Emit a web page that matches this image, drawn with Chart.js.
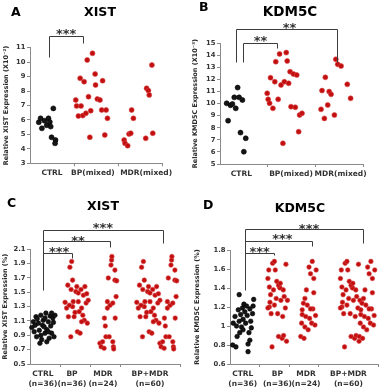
<!DOCTYPE html>
<html><head><meta charset="utf-8">
<script src="https://cdn.jsdelivr.net/npm/chart.js@4/dist/chart.umd.min.js"></script>
<style>
html,body{margin:0;padding:0;background:#fff;}
body{width:380px;height:387px;position:relative;overflow:hidden;font-family:"DejaVu Sans",sans-serif;}
.panel{position:absolute;}
.panel canvas{display:block;}
.lbl{position:absolute;font-weight:bold;color:#000;line-height:1;white-space:nowrap;}
.ctr{transform:translateX(-50%);}
</style></head><body>
<div class="panel" style="left:0;top:0;width:190px;height:190px"><canvas id="cA" width="190" height="190"></canvas></div>
<div class="panel" style="left:190px;top:0;width:190px;height:190px"><canvas id="cB" width="190" height="190"></canvas></div>
<div class="panel" style="left:0;top:190px;width:190px;height:197px"><canvas id="cC" width="190" height="197"></canvas></div>
<div class="panel" style="left:190px;top:190px;width:190px;height:197px"><canvas id="cD" width="190" height="197"></canvas></div>
<div class="lbl" style="left:11px;top:5.5px;font-size:12.5px">A</div>
<div class="lbl ctr" style="left:100px;top:5.5px;font-size:12.5px">XIST</div>
<div class="lbl" style="left:199px;top:0.5px;font-size:12.5px">B</div>
<div class="lbl ctr" style="left:290px;top:5px;font-size:13.5px">KDM5C</div>
<div class="lbl" style="left:7px;top:196.5px;font-size:12.5px">C</div>
<div class="lbl ctr" style="left:103px;top:199.5px;font-size:12.5px">XIST</div>
<div class="lbl" style="left:203px;top:198.5px;font-size:12.5px">D</div>
<div class="lbl ctr" style="left:300px;top:201.5px;font-size:12.5px">KDM5C</div>
<script>
// ---------- DATA (x = jitter position in category units, y = value) ----------
const A_CATS = ['CTRL', 'BP(mixed)', 'MDR(mixed)'];
const A_YTICKS = [3, 4, 5, 6, 7, 8, 9, 10, 11];
const A_CTRL = [[0.20,5.84],[0.24,6.11],[0.27,5.42],[0.33,5.95],[0.38,5.63],[0.42,6.11],[0.45,5.86],[0.47,5.54],[0.53,6.80],[0.49,4.80],[0.58,4.61],[0.57,4.38]];
const A_BP = [[1.04,7.38],[1.06,6.97],[1.14,8.88],[1.16,6.97],[1.10,6.27],[1.20,6.30],[1.23,8.65],[1.27,6.46],[1.30,10.15],[1.33,7.61],[1.38,6.64],[1.36,4.80],[1.42,10.61],[1.48,9.18],[1.49,8.42],[1.53,7.45],[1.59,7.38],[1.63,6.69],[1.65,8.72],[1.70,4.96],[1.73,6.69],[1.76,6.11]];
const A_MDR = [[2.14,4.61],[2.16,4.38],[2.22,4.22],[2.25,5.03],[2.29,5.08],[2.31,6.69],[2.35,6.11],[2.63,4.73],[2.65,8.19],[2.69,8.03],[2.71,7.73],[2.77,9.80],[2.79,5.08]];

const B_CATS = ['CTRL', 'BP(mixed)', 'MDR(mixed)'];
const B_YTICKS = [5, 6, 7, 8, 9, 10, 11, 12, 13, 14, 15];
const B_CTRL = [[0.14,10.03],[0.17,8.59],[0.22,9.86],[0.26,9.97],[0.30,10.52],[0.33,9.61],[0.37,11.33],[0.40,10.52],[0.47,10.30],[0.43,7.60],[0.54,7.13],[0.50,6.02]];
const B_BP = [[0.99,10.86],[1.01,10.36],[1.04,10.03],[1.06,12.15],[1.11,9.61],[1.15,11.82],[1.17,13.48],[1.22,10.36],[1.25,14.12],[1.28,11.55],[1.32,6.71],[1.35,11.82],[1.39,14.23],[1.41,13.54],[1.44,11.69],[1.47,12.65],[1.49,9.75],[1.54,12.46],[1.58,9.70],[1.61,12.38],[1.65,7.68],[1.67,9.06],[1.72,9.20]];
const B_MDR = [[2.12,9.53],[2.14,11.08],[2.19,8.78],[2.21,12.18],[2.26,9.89],[2.29,11.00],[2.33,10.77],[2.40,9.06],[2.43,13.67],[2.47,13.26],[2.54,13.12],[2.67,11.60],[2.74,10.44]];

const C_CATS = [['CTRL','(n=36)'], ['BP','(n=36)'], ['MDR','(n=24)'], ['BP+MDR','(n=60)']];
const C_YTICKS = [0.5, 0.7, 0.9, 1.1, 1.3, 1.5, 1.7, 1.9, 2.1];
const C_CTRL = [[0.06,1.01],[0.11,1.09],[0.14,0.95],[0.20,1.16],[0.22,0.88],[0.28,1.07],[0.31,0.97],[0.36,1.18],[0.39,0.84],[0.42,1.04],[0.44,1.11],[0.50,0.93],[0.53,1.21],[0.56,0.98],[0.61,1.09],[0.64,0.86],[0.67,1.17],[0.69,1.03],[0.72,0.93],[0.76,1.14],[0.78,1.08],[0.80,0.88],[0.83,1.18],[0.33,0.79],[0.56,0.81],[0.17,1.04],[0.47,1.02],[0.72,1.21],[0.24,1.13],[0.61,0.95],[0.36,0.90],[0.50,1.14]];
const C_BP = [[1.17,1.36],[1.22,1.28],[1.26,1.60],[1.28,1.16],[1.33,1.85],[1.36,0.88],[1.37,1.54],[1.39,1.93],[1.42,1.30],[1.44,1.37],[1.47,1.16],[1.50,1.22],[1.42,1.67],[1.53,1.51],[1.56,1.58],[1.58,0.95],[1.61,1.37],[1.64,1.23],[1.67,0.93],[1.70,1.54],[1.72,1.28],[1.76,1.18],[1.78,1.46],[1.81,1.11],[1.83,1.58],[1.87,1.35],[1.89,1.48],[1.91,1.07],[1.94,1.39],[1.61,1.49],[1.31,1.32],[1.72,1.09]];
const C_MDR = [[2.33,0.79],[2.37,0.74],[2.42,0.81],[2.47,0.72],[2.48,1.14],[2.51,1.03],[2.53,0.88],[2.58,1.28],[2.58,1.37],[2.61,1.70],[2.64,0.88],[2.67,1.32],[2.70,1.88],[2.72,1.95],[2.73,2.00],[2.76,0.81],[2.78,0.74],[2.83,1.81],[2.83,1.67],[2.87,1.44],[2.84,1.14],[2.79,0.71],[2.89,1.66],[2.76,1.35]];
const C_BPMDR = [[3.56,1.36],[3.61,1.28],[3.65,1.60],[3.67,1.16],[3.72,1.85],[3.75,0.88],[3.76,1.54],[3.78,1.93],[3.81,1.30],[3.83,1.37],[3.86,1.16],[3.89,1.22],[3.81,1.67],[3.92,1.51],[3.95,1.58],[3.97,0.95],[4.00,1.37],[4.03,1.23],[4.06,0.93],[4.09,1.54],[4.11,1.28],[4.15,1.18],[4.17,1.46],[4.20,1.11],[4.22,1.58],[4.26,1.35],[4.28,1.48],[4.30,1.07],[4.33,1.39],[4.00,1.49],[3.70,1.32],[4.11,1.09],
  [4.33,0.79],[4.37,0.74],[4.42,0.81],[4.47,0.72],[4.48,1.14],[4.51,1.03],[4.53,0.88],[4.58,1.28],[4.58,1.37],[4.61,1.70],[4.64,0.88],[4.67,1.32],[4.70,1.88],[4.72,1.95],[4.73,2.00],[4.76,0.81],[4.78,0.74],[4.83,1.81],[4.83,1.67],[4.87,1.44],[4.84,1.14],[4.79,0.71],[4.89,1.66],[4.76,1.35]];

const D_CATS = [['CTRL','(n=36)'], ['BP','(n=36)'], ['MDR','(n=24)'], ['BP+MDR','(n=60)']];
const D_YTICKS = [0.6, 0.8, 1, 1.2, 1.4, 1.6, 1.8];
const D_CTRL = [[0.09,0.80],[0.20,0.78],[0.11,1.03],[0.17,1.10],[0.22,1.00],[0.24,0.89],[0.28,1.17],[0.31,1.05],[0.33,0.93],[0.36,1.12],[0.39,0.99],[0.42,1.19],[0.44,1.07],[0.47,1.23],[0.50,1.15],[0.53,1.03],[0.56,1.21],[0.58,1.11],[0.61,0.81],[0.61,0.73],[0.64,0.93],[0.67,1.18],[0.70,1.05],[0.72,0.98],[0.76,1.13],[0.78,1.21],[0.31,1.33],[0.80,1.28],[0.67,0.85],[0.44,0.96]];
const D_BP = [[1.28,1.50],[1.31,1.59],[1.33,1.41],[1.33,1.20],[1.37,1.33],[1.39,1.13],[1.42,0.78],[1.44,1.66],[1.47,1.38],[1.50,1.68],[1.53,1.59],[1.56,1.29],[1.58,1.47],[1.61,1.13],[1.64,0.89],[1.67,1.41],[1.69,1.40],[1.72,1.27],[1.76,0.87],[1.78,1.10],[1.80,1.38],[1.83,1.31],[1.87,1.19],[1.89,1.65],[1.91,0.84],[1.94,1.27],[1.81,0.90],[1.50,1.22],[1.28,1.19],[1.64,1.43],[1.70,1.45],[1.35,1.25]];
const D_MDR = [[2.39,0.89],[2.42,1.03],[2.44,1.12],[2.48,1.24],[2.50,0.87],[2.53,0.99],[2.56,1.10],[2.58,1.38],[2.61,1.22],[2.64,0.96],[2.67,1.62],[2.69,1.08],[2.72,1.55],[2.76,1.03],[2.78,1.68],[2.80,1.18],[2.83,1.50],[2.87,1.01],[2.89,1.11],[2.91,1.59],[2.83,1.35],[2.72,1.18],[2.44,1.17],[2.53,1.29]];
const D_BPMDR = [[3.73,1.50],[3.76,1.59],[3.78,1.41],[3.78,1.20],[3.82,1.33],[3.84,1.13],[3.87,0.78],[3.89,1.66],[3.92,1.38],[3.95,1.68],[3.98,1.59],[4.01,1.29],[4.03,1.47],[4.06,1.13],[4.09,0.89],[4.12,1.41],[4.14,1.40],[4.17,1.27],[4.21,0.87],[4.23,1.10],[4.25,1.38],[4.28,1.31],[4.32,1.19],[4.34,1.65],[4.36,0.84],[4.39,1.27],[4.26,0.90],[3.95,1.22],[3.73,1.19],[4.09,1.43],[4.15,1.45],[3.80,1.25],
  [4.37,0.89],[4.40,1.03],[4.42,1.12],[4.46,1.24],[4.48,0.87],[4.51,0.99],[4.54,1.10],[4.56,1.38],[4.59,1.22],[4.62,0.96],[4.65,1.62],[4.67,1.08],[4.70,1.55],[4.74,1.03],[4.76,1.68],[4.78,1.18],[4.81,1.50],[4.85,1.01],[4.87,1.11],[4.89,1.59],[4.81,1.35],[4.70,1.18],[4.42,1.17],[4.51,1.29]];

// ---------- STYLE ----------
const AXIS = '#8a8a8a';
const TICK = '#333333';
const FONT = '"DejaVu Sans", sans-serif';
const BLACK = {fill: '#151515', border: '#000000'};
const RED = {fill: '#c20e0e', border: '#d84848'};

const bracketPlugin = {
  id: 'brackets',
  afterDraw(chart, args, opts) {
    const {ctx} = chart;
    const x = chart.scales.x, y = chart.scales.y;
    ctx.save();
    ctx.strokeStyle = '#3c3c3c';
    ctx.lineWidth = 1;
    (opts.paths || []).forEach(p => {
      ctx.beginPath();
      p.forEach((pt, i) => {
        const px = Math.round(x.getPixelForValue(pt[0])) + 0.5;
        const py = Math.round(y.getPixelForValue(pt[1])) + 0.5;
        if (i) ctx.lineTo(px, py); else ctx.moveTo(px, py);
      });
      ctx.stroke();
    });
    const fs = 13;
    ctx.fillStyle = '#333';
    ctx.font = 'bold ' + fs + 'px ' + FONT;
    ctx.textAlign = 'center';
    ctx.textBaseline = 'alphabetic';
    (opts.stars || []).forEach(s => {
      ctx.fillText(s[2], x.getPixelForValue(s[0]), y.getPixelForValue(s[1]) + 0.58 * fs);
    });
    ctx.restore();
  }
};

function makeChart(id, cfg) {
  const xTicks = Array.from(new Set(cfg.xMarks.concat(cfg.labelAt))).sort((a, b) => a - b);
  return new Chart(document.getElementById(id), {
    type: 'scatter',
    data: {
      datasets: cfg.groups.map(g => ({
        data: g.pts.map(p => ({x: p[0], y: p[1]})),
        backgroundColor: g.style.fill,
        borderColor: g.style.border,
        borderWidth: 0.6,
        pointRadius: cfg.r,
        pointHoverRadius: cfg.r,
        clip: false
      }))
    },
    options: {
      responsive: false,
      animation: false,
      devicePixelRatio: 1,
      events: [],
      layout: {autoPadding: false, padding: {left: 0, top: cfg.top, right: cfg.right, bottom: 0}},
      plugins: {
        legend: {display: false},
        tooltip: {enabled: false},
        brackets: {paths: cfg.paths, stars: cfg.stars}
      },
      scales: {
        x: {
          type: 'linear', position: 'bottom', min: 0, max: cfg.xmax,
          afterBuildTicks: s => { s.ticks = xTicks.map(v => ({value: v})); },
          afterFit: s => { s.height = cfg.xh; },
          border: {display: true, color: AXIS, width: 1},
          grid: {
            display: true, drawOnChartArea: false, drawTicks: true, tickLength: 3, tickWidth: 1,
            color: AXIS,
            tickColor: c => (c.tick && cfg.xMarks.includes(c.tick.value)) ? AXIS : 'rgba(0,0,0,0)'
          },
          ticks: {
            autoSkip: false, maxRotation: 0, minRotation: 0, padding: 2, color: TICK,
            font: {family: FONT, size: 7.5, weight: 'bold', lineHeight: 1.35},
            callback: v => { const i = cfg.labelAt.indexOf(v); return i >= 0 ? cfg.cats[i] : ''; }
          }
        },
        y: {
          type: 'linear', position: 'left', min: cfg.yTicks[0], max: cfg.yTicks[cfg.yTicks.length - 1],
          afterBuildTicks: s => { s.ticks = cfg.yTicks.map(v => ({value: v})); },
          afterFit: s => { s.width = cfg.yw; },
          border: {display: true, color: AXIS, width: 1},
          grid: {display: true, drawOnChartArea: false, drawTicks: true, tickLength: 3, color: AXIS, tickColor: AXIS},
          ticks: {
            padding: 1.5, color: TICK,
            font: {family: FONT, size: 6.8, weight: 'bold'},
            callback: v => String(v)
          },
          title: {
            display: true, text: cfg.ytitle, color: '#2a2a2a',
            font: {family: FONT, size: 6.5, weight: 'bold'},
            padding: {top: cfg.titlePad, bottom: 0}
          }
        }
      }
    },
    plugins: [bracketPlugin]
  });
}

makeChart('cA', {
  cats: A_CATS, labelAt: [0.5, 1.43, 2.64], xMarks: [1, 2, 3], xmax: 3, yTicks: A_YTICKS,
  top: 47.7, right: 28, xh: 26.7, yw: 30, titlePad: 2, r: 2.5,
  ytitle: 'Relative XIST Expression (X10\u207B\u00B2)',
  groups: [{pts: A_CTRL, style: BLACK}, {pts: A_BP, style: RED}, {pts: A_MDR, style: RED}],
  paths: [[[0.43,10.36],[0.43,11.81],[1.2,11.81],[1.2,11.33]]],
  stars: [[0.82,12.16,'***']]
});
makeChart('cB', {
  cats: B_CATS, labelAt: [0.45, 1.49, 2.53], xMarks: [1, 2, 3], xmax: 3, yTicks: B_YTICKS,
  top: 43.3, right: 17, xh: 26, yw: 30, titlePad: 1, r: 2.5,
  ytitle: 'Relative KMD5C Expression (X10\u207B\u00B3)',
  groups: [{pts: B_CTRL, style: BLACK}, {pts: B_BP, style: RED}, {pts: B_MDR, style: RED}],
  paths: [[[0.33,13.45],[0.33,16.18],[2.46,16.18],[2.46,13.45]], [[0.48,13.45],[0.48,15.02],[1.19,15.02],[1.19,14.61]]],
  stars: [[0.85,15.52,'**'], [1.46,16.6,'**']]
});
makeChart('cC', {
  cats: C_CATS, labelAt: [0.43, 1.4, 2.43, 4], xMarks: [1, 2, 3, 5], xmax: 5, yTicks: C_YTICKS,
  top: 59.3, right: 10, xh: 23, yw: 30, titlePad: 1, r: 2.3,
  ytitle: 'Relative XIST Expression (%)',
  groups: [{pts: C_CTRL, style: BLACK}, {pts: C_BP, style: RED}, {pts: C_MDR, style: RED}, {pts: C_BPMDR, style: RED}],
  paths: [[[0.43,1.53],[0.43,2.37],[4.43,2.37],[4.43,2.19]], [[0.43,2.05],[1.4,2.05],[1.4,1.98]], [[0.43,2.22],[2.67,2.22],[2.67,2.13]]],
  stars: [[0.97,2.11,'***'], [1.6,2.27,'**'], [2.43,2.44,'***']]
});
makeChart('cD', {
  cats: D_CATS, labelAt: [0.43, 1.6, 2.57, 4], xMarks: [1, 2, 3, 5], xmax: 5, yTicks: D_YTICKS,
  top: 60, right: 0, xh: 23, yw: 40, titlePad: 3, r: 2.3,
  ytitle: 'Relative KMD5C Expression (%)',
  groups: [{pts: D_CTRL, style: BLACK}, {pts: D_BP, style: RED}, {pts: D_MDR, style: RED}, {pts: D_BPMDR, style: RED}],
  paths: [[[0.5,1.38],[0.5,2.02],[4.5,2.02],[4.5,1.87]], [[0.5,1.77],[1.5,1.77],[1.5,1.75]], [[0.5,1.89],[2.77,1.89],[2.77,1.84]]],
  stars: [[1.0,1.82,'***'], [1.77,1.95,'***'], [2.67,2.06,'***']]
});
</script>
</body></html>
